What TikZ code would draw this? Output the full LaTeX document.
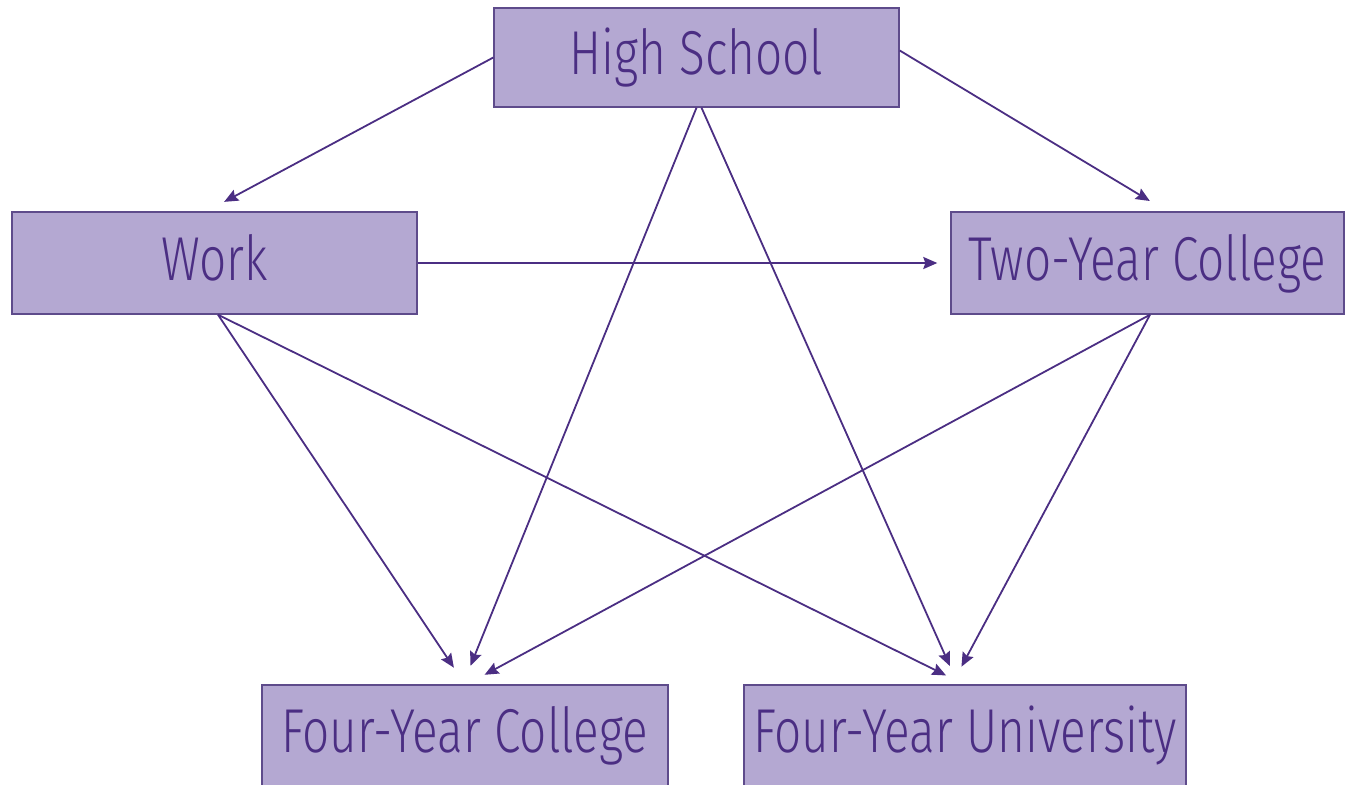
\documentclass[tikz,border=0pt]{standalone}
\usepackage{fontspec}
\setmainfont{Fira Sans Light}[FakeStretch=0.77]
\usepackage{tikz}
\usetikzlibrary{calc}
\usetikzlibrary{arrows.meta}
\definecolor{boxfill}{HTML}{B4A8D2}
\definecolor{boxline}{HTML}{5E4B8B}
\definecolor{uwpurple}{HTML}{4B2E83}

\begin{document}
\begin{tikzpicture}
 		[
 		x=0.5pt, y=-0.5pt,
 		font=\fontsize{31}{36}\selectfont,
 		>={Stealth[length=7pt,width=6pt,inset=1pt]}
 		]
 		
 		% Two styles: the boxes and the arrows between them
 		\tikzstyle{stage node}=[rectangle,draw=boxline,fill=boxfill,text=uwpurple,line width=0.7pt,inner sep=0,text height=21.5pt,text depth=4.5pt];
 		\tikzstyle{path edge}=[->,draw=uwpurple,line width=0.9pt,shorten >=10pt];
 		
 		\useasboundingbox (0,0) rectangle (1345,784);
 		
 		% The stages
 		\node(hs)[stage node,minimum width=202.5pt,minimum height=49.5pt]at(696.5,57.5){High School};
 		\node(work)[stage node,minimum width=202.5pt,minimum height=51pt]at(214.5,263){Work};
 		\node(two)[stage node,minimum width=196.5pt,minimum height=51pt]at(1147.5,263){Two-Year College};
 		\node(fyc)[stage node,minimum width=203pt,minimum height=50.5pt]at(465,735.5){Four-Year College};
 		\node(fyu)[stage node,minimum width=221pt,minimum height=50.5pt]at(965,735.5){Four-Year University};
 		
 		% From high school
 		\draw[path edge](hs.west)to($(work.north)+(-8,0)$);
 		\draw[path edge]($(hs.east)+(0,-7)$)to($(two.north)+(19.5,0)$);
 		\draw[path edge](hs.south)to($(fyc.north)+(-2,0)$);
 		\draw[path edge]($(hs.south)+(5,0)$)to($(fyu.north)+(-7,0)$);
 		
 		% From work
 		\draw[path edge,shorten >=6.5pt](work.east)to(two.west);
 		\draw[path edge]($(work.south)+(3.5,0)$)to(fyc.north);
 		\draw[path edge]($(work.south)+(3.5,0)$)to($(fyu.north)+(-1,0)$);
 		
 		% From two-year college
 		\draw[path edge]($(two.south)+(2.5,0)$)to($(fyc.north)+(2,0)$);
 		\draw[path edge]($(two.south)+(2.5,0)$)to($(fyu.north)+(-13,0)$);
 		
 		\end{tikzpicture}
\end{document}
